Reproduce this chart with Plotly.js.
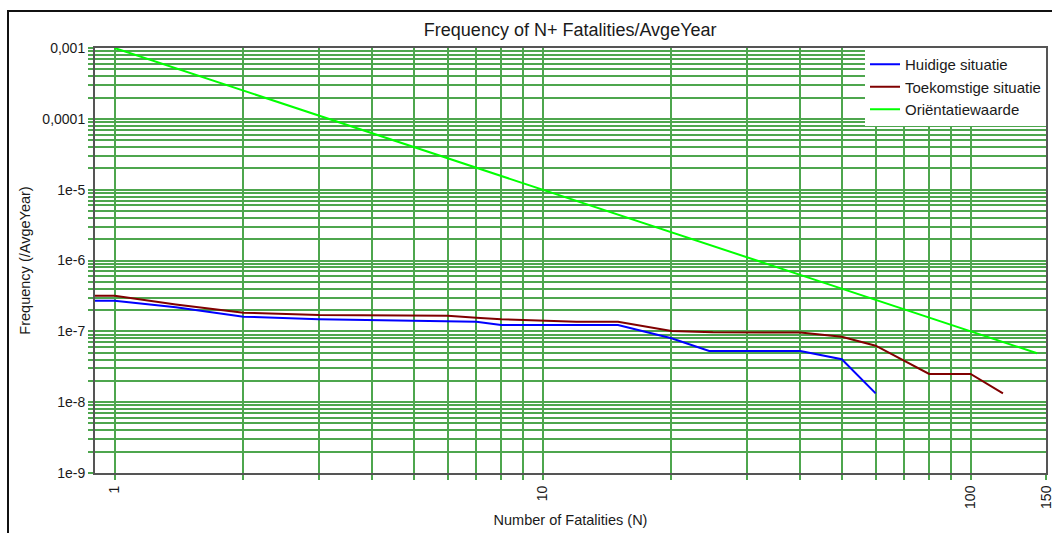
<!DOCTYPE html>
<html>
<head>
<meta charset="utf-8">
<script src="https://cdn.plot.ly/plotly-3.0.1.min.js"></script>
<style>
  html, body { margin: 0; padding: 0; background: #fff; overflow: hidden; }
  #frame { position: absolute; left: 7px; top: 10px; width: 1100px; height: 600px; border: 2px solid #111; box-sizing: border-box; pointer-events: none; z-index: 5; }
  #chart { position: absolute; left: 0; top: 0; width: 1052px; height: 533px; }
</style>
</head>
<body>
<div id="chart"></div>
<div id="frame"></div>
<script>
// ---- data ----
const seriesNames = ['Huidige situatie', 'Toekomstige situatie', 'Oriëntatiewaarde'];

const nHuidig = [0.9, 1, 1.39, 2, 3, 6, 7, 8, 15, 20, 24.5, 40, 50, 60];
const fHuidig = [2.70e-7, 2.70e-7, 2.18e-7, 1.61e-7, 1.48e-7, 1.41e-7, 1.37e-7, 1.23e-7, 1.23e-7, 8.0e-8, 5.27e-8, 5.27e-8, 4.03e-8, 1.33e-8];

const nToekomst = [0.9, 1, 1.39, 2, 3, 6, 7, 8, 12, 15, 20, 25, 40, 43, 50, 60, 80, 100, 119];
const fToekomst = [3.18e-7, 3.18e-7, 2.40e-7, 1.83e-7, 1.70e-7, 1.66e-7, 1.56e-7, 1.48e-7, 1.37e-7, 1.37e-7, 1.01e-7, 9.7e-8, 9.6e-8, 9.2e-8, 8.4e-8, 6.27e-8, 2.50e-8, 2.50e-8, 1.33e-8];

const nOrient = [1, 143];
const fOrient = [1e-3, 4.9e-8];

// labelled ticks
const xLabelVals = [1, 10, 100, 150];
const xLabelText = ['1', '10', '100', '150'];
const yLabelVals = [1e-3, 1e-4, 1e-5, 1e-6, 1e-7, 1e-8, 1e-9];
const yLabelText = ['0,001', '0,0001', '1e-5', '1e-6', '1e-7', '1e-8', '1e-9'];

// full gridline sets (labelled ticks + unlabelled 2..9 per decade)
const xTickVals = [], xTickText = [];
[1, 10, 100].forEach(d => {
  for (let k = 1; k <= 9; k++) {
    const v = k * d;
    if (v > 150) break;
    const i = xLabelVals.indexOf(v);
    xTickVals.push(v); xTickText.push(i >= 0 ? xLabelText[i] : '');
  }
});
xTickVals.push(150); xTickText.push('150');

const yTickVals = [], yTickText = [];
for (let e = -9; e <= -3; e++) {
  for (let k = 1; k <= 9; k++) {
    if (e === -3 && k > 1) break;
    const v = k * Math.pow(10, e);
    yTickVals.push(v);
    yTickText.push(k === 1 ? yLabelText[yLabelVals.findIndex(t => Math.abs(Math.log10(t) - e) < 1e-9)] : '');
  }
}

const FONT = 'Arial, "Liberation Sans", sans-serif';
const TXT = '#1a1a1a';
const GRID = '#4ea64e';

const traces = [
  { x: nHuidig, y: fHuidig, name: seriesNames[0], mode: 'lines', line: { color: '#0000ff', width: 2 }, legendgroup: 'a' },
  { x: nToekomst, y: fToekomst, name: seriesNames[1], mode: 'lines', line: { color: '#800000', width: 2 }, legendgroup: 'b' },
  { x: nOrient, y: fOrient, name: seriesNames[2], mode: 'lines', line: { color: '#00ff00', width: 2 }, legendgroup: 'c' }
];

const layout = {
  width: 1052, height: 533,
  margin: { l: 95, r: 6, t: 48, b: 60, pad: 0 },
  paper_bgcolor: 'rgba(0,0,0,0)',
  plot_bgcolor: '#ffffff',
  font: { family: FONT, color: TXT, size: 14 },
  title: { text: 'Frequency of N+ Fatalities/AvgeYear', font: { family: FONT, size: 18, color: TXT }, x: 0.542, xanchor: 'center', y: 0.945, yanchor: 'middle' },
  showlegend: true,
  legend: {
    x: 1, xanchor: 'right', y: 1, yanchor: 'top',
    bgcolor: '#ffffff', borderwidth: 0,
    font: { family: FONT, size: 15, color: TXT },
    traceorder: 'grouped', tracegroupgap: 0,
    itemwidth: 30
  },
  xaxis: {
    type: 'log',
    range: [Math.log10(0.9), Math.log10(150)],
    tickmode: 'array', tickvals: xTickVals, ticktext: xTickText,
    tickangle: -90,
    ticklabeloverflow: 'allow',
    tickfont: { family: FONT, size: 14, color: TXT },
    ticks: 'outside', ticklen: 5, tickcolor: GRID, tickwidth: 2,
    showgrid: true, gridcolor: GRID, gridwidth: 2,
    showline: true, linecolor: '#555555', linewidth: 2, mirror: true,
    zeroline: false,
    title: { text: 'Number of Fatalities (N)', font: { family: FONT, size: 14.5, color: TXT }, standoff: 7 }
  },
  yaxis: {
    type: 'log',
    range: [-9, -3],
    tickmode: 'array', tickvals: yTickVals, ticktext: yTickText,
    ticklabeloverflow: 'allow',
    tickfont: { family: FONT, size: 14, color: TXT },
    ticks: 'outside', ticklen: 5, tickcolor: GRID, tickwidth: 2,
    showgrid: true, gridcolor: GRID, gridwidth: 2,
    showline: true, linecolor: '#555555', linewidth: 2, mirror: true,
    zeroline: false,
    title: { text: 'Frequency (/AvgeYear)', font: { family: FONT, size: 14.5, color: TXT }, standoff: 8 }
  }
};

Plotly.newPlot('chart', traces, layout, { displayModeBar: false, staticPlot: true });
</script>
</body>
</html>
